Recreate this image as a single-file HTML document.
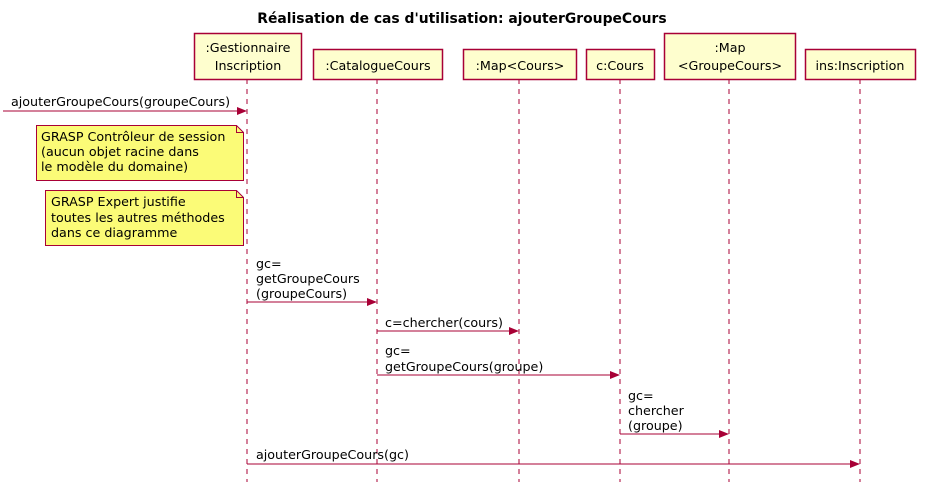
<!DOCTYPE html>
<html><head><meta charset="utf-8"><style>
html,body{margin:0;padding:0;background:#fff;}
svg text{font-family:"DejaVu Sans","Liberation Sans",sans-serif;font-size:12.7px;fill:#000;}
</style></head><body>
<svg width="926" height="493" viewBox="0 0 926 493" xmlns="http://www.w3.org/2000/svg">
<text x="462" y="23" text-anchor="middle" style="font-weight:bold;font-size:13.9px">Réalisation de cas d'utilisation: ajouterGroupeCours</text>
<g stroke="#A80036" stroke-width="1" stroke-dasharray="5,5">
<line x1="247" y1="79" x2="247" y2="482"/>
<line x1="377" y1="79" x2="377" y2="482"/>
<line x1="519" y1="79" x2="519" y2="482"/>
<line x1="620" y1="79" x2="620" y2="482"/>
<line x1="729" y1="79" x2="729" y2="482"/>
<line x1="860" y1="79" x2="860" y2="482"/>
</g>
<g fill="#FEFECE" stroke="#A80036" stroke-width="1.5">
<rect x="194.5" y="33.5" width="107" height="46"/>
<rect x="313.5" y="49.5" width="129" height="30"/>
<rect x="463.5" y="49.5" width="113" height="30"/>
<rect x="586.5" y="49.5" width="68" height="30"/>
<rect x="664.5" y="33.5" width="131" height="46"/>
<rect x="805.5" y="49.5" width="110" height="30"/>
</g>
<g text-anchor="middle" style="font-size:14.2px">
<text x="248" y="52">:Gestionnaire</text>
<text x="248" y="70">Inscription</text>
<text x="378" y="70">:CatalogueCours</text>
<text x="520" y="70">:Map&lt;Cours&gt;</text>
<text x="620" y="70">c:Cours</text>
<text x="730" y="52">:Map</text>
<text x="730" y="70">&lt;GroupeCours&gt;</text>
<text x="860" y="70">ins:Inscription</text>
</g>
<g fill="#FBFB77" stroke="#A80036" stroke-width="1">
<path d="M36.5,125.5 H236.5 L243.5,132.5 V180.5 H36.5 Z"/>
<path d="M236.5,125.5 V132.5 H243.5" fill="none"/>
<path d="M45.5,190.5 H236.5 L243.5,197.5 V245.5 H45.5 Z"/>
<path d="M236.5,190.5 V197.5 H243.5" fill="none"/>
</g>
<text x="41" y="141">GRASP Contrôleur de session</text>
<text x="41" y="156">(aucun objet racine dans</text>
<text x="41" y="171">le modèle du domaine)</text>
<text x="51" y="206">GRASP Expert justifie</text>
<text x="51" y="222">toutes les autres méthodes</text>
<text x="51" y="237">dans ce diagramme</text>
<g stroke="#A80036" stroke-width="1">
<line x1="3" y1="111" x2="238" y2="111"/>
<line x1="247" y1="302" x2="368" y2="302"/>
<line x1="377" y1="331" x2="510" y2="331"/>
<line x1="377" y1="375" x2="611" y2="375"/>
<line x1="620" y1="434" x2="720" y2="434"/>
<line x1="247" y1="464" x2="851" y2="464"/>
</g>
<g fill="#A80036">
<path d="M237,107 L247,111 L237,115 Z"/>
<path d="M367,298 L377,302 L367,306 Z"/>
<path d="M509,327 L519,331 L509,335 Z"/>
<path d="M610,371 L620,375 L610,379 Z"/>
<path d="M719,430 L729,434 L719,438 Z"/>
<path d="M850,460 L860,464 L850,468 Z"/>
</g>
<text x="11" y="106">ajouterGroupeCours(groupeCours)</text>
<text x="256" y="268">gc=</text>
<text x="256" y="283">getGroupeCours</text>
<text x="256" y="298">(groupeCours)</text>
<text x="385" y="327">c=chercher(cours)</text>
<text x="385" y="355">gc=</text>
<text x="385" y="371">getGroupeCours(groupe)</text>
<text x="628" y="400">gc=</text>
<text x="628" y="415">chercher</text>
<text x="628" y="430">(groupe)</text>
<text x="256" y="459">ajouterGroupeCours(gc)</text>
</svg>
</body></html>
